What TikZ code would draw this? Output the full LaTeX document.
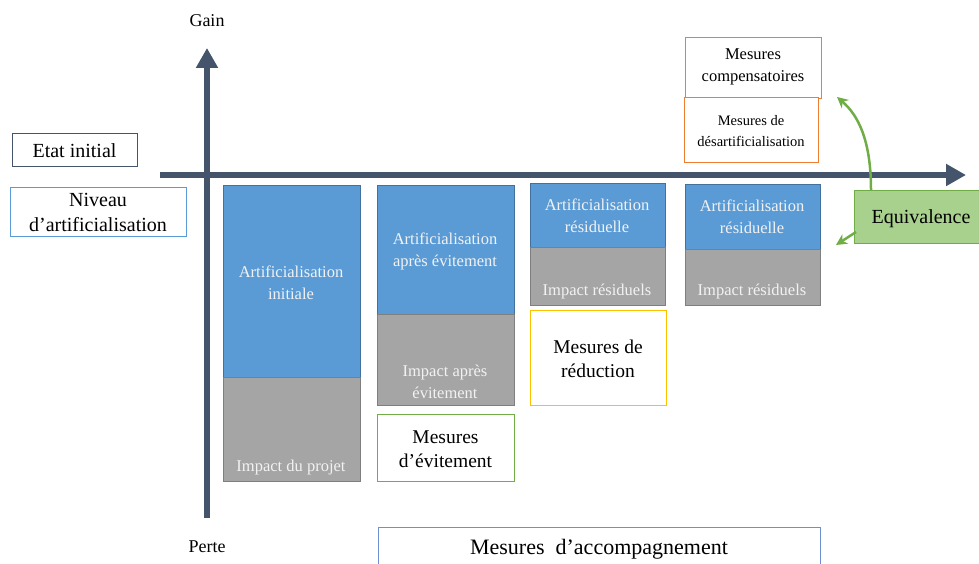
\documentclass[tikz,border=0pt]{standalone}
\usepackage{fontspec}
\setmainfont{Liberation Serif}
\usetikzlibrary{arrows.meta}
\definecolor{axis}{HTML}{44546A}
\definecolor{blu}{HTML}{5B9BD5}
\definecolor{bluD}{HTML}{41719C}
\definecolor{gry}{HTML}{A5A5A5}
\definecolor{gryD}{HTML}{7F7F7F}
\definecolor{grn}{HTML}{70AD47}
\definecolor{grnL}{HTML}{A9D18E}
\definecolor{gold}{HTML}{FFC000}
\definecolor{orng}{HTML}{ED7D31}
\definecolor{acc}{HTML}{6F8FD0}
\definecolor{wtxt}{HTML}{F2F2F2}
\tikzset{
  box/.style={draw, line width=1pt, inner sep=0pt, anchor=north west, align=center, text=black},
  bluebox/.style={box, draw=bluD, fill=blu},
  greybox/.style={box, draw=gryD, fill=gry},
  lab/.style={align=center, text=black, inner sep=0pt},
  wlab/.style={lab, text=wtxt, font=\fontsize{16.5}{22}\selectfont},
  axisline/.style={line width=6pt, draw=axis, -{Triangle[length=20pt,width=21pt]}},
  eqarrow/.style={line width=2.5pt, draw=grn, -{Stealth[length=11pt,width=11pt]}}
}
\begin{document}
\begin{tikzpicture}[x=1pt,y=-1pt]
\useasboundingbox (0,0) rectangle (979,564);
% axes
\coordinate (vb) at (207,518);
\coordinate (vt) at (207,48);
\coordinate (hl) at (160,175);
\coordinate (hr) at (966,175);
\draw[axisline] (vb) -- (vt);
\draw[axisline] (hl) -- (hr);
\node[lab, font=\fontsize{18}{20}\selectfont] (gain) at (207,21) {Gain};
\node[lab, font=\fontsize{18}{20}\selectfont] (perte) at (207,547) {Perte};
% left labels
\node[box, draw=axis, minimum width=125pt, minimum height=33pt] (etat) at (12,133) {};
\node[lab, font=\fontsize{20}{22}\selectfont] (etatt) at (74.5,151) {Etat initial};
\node[box, draw=blu, minimum width=176pt, minimum height=49pt] (niv) at (10,187) {};
\node[lab, font=\fontsize{20}{25}\selectfont] (nivt) at (98,212) {Niveau\\d’artificialisation};
% column 1
\node[bluebox, minimum width=137pt, minimum height=192pt] (b1) at (223,185) {};
\node[greybox, minimum width=137pt, minimum height=104pt] (g1) at (223,377) {};
\node[wlab] (t1) at (291,283) {Artificialisation\\initiale};
\node[wlab] (i1) at (291,468) {Impact du projet};
% column 2
\node[bluebox, minimum width=137pt, minimum height=129pt] (b2) at (377,185) {};
\node[greybox, minimum width=137pt, minimum height=91pt] (g2) at (377,314) {};
\node[wlab] (t2) at (445,251) {Artificialisation\\après évitement};
\node[wlab] (i2) at (445,382) {Impact après\\évitement};
\node[box, draw=grn, minimum width=137pt, minimum height=67pt] (mev) at (377,414) {};
\node[lab, font=\fontsize{19.5}{24}\selectfont] (mevt) at (445.5,449) {Mesures\\d’évitement};
% column 3
\node[bluebox, minimum width=135pt, minimum height=64pt] (b3) at (530,183) {};
\node[greybox, minimum width=135pt, minimum height=58pt] (g3) at (530,247) {};
\node[wlab] (t3) at (597,216) {Artificialisation\\résiduelle};
\node[wlab] (i3) at (597,292) {Impact résiduels};
\node[box, draw=gold, minimum width=136pt, minimum height=95pt] (mred) at (530,310) {};
\node[lab, font=\fontsize{19.5}{24}\selectfont] (mredt) at (598,359) {Mesures de\\réduction};
% column 4
\node[bluebox, minimum width=135pt, minimum height=65pt] (b4) at (685,184) {};
\node[greybox, minimum width=135pt, minimum height=56pt] (g4) at (685,249) {};
\node[wlab] (t4) at (752,217) {Artificialisation\\résiduelle};
\node[wlab] (i4) at (752,292) {Impact résiduels};
% compensation
\node[box, draw=orng, minimum width=136pt, minimum height=61pt] (mcomp) at (685,37) {};
\node[lab, font=\fontsize{16.5}{22}\selectfont] (mcompt) at (753,67) {Mesures\\compensatoires};
\node[box, draw=orng, fill=white, minimum width=134pt, minimum height=65pt] (mdes) at (684,97) {};
\node[lab, font=\fontsize{14.5}{21}\selectfont] (mdest) at (751,131) {Mesures de\\désartificialisation};
% equivalence
\node[box, draw=grn, fill=grnL, minimum width=125pt, minimum height=53pt] (eq) at (854,190) {};
\node[lab, font=\fontsize{20}{22}\selectfont] (eqt) at (921,219) {Equivalence};
\coordinate (eqtop) at (871,190);
\coordinate (eqleft) at (856,232);
\coordinate (up) at (837,97);
\coordinate (down) at (836,245);
\draw[eqarrow] (eqtop) .. controls (871,140) and (858,115) .. (up);
\draw[eqarrow] (eqleft) -- (down);
% accompagnement
\node[box, draw=acc, minimum width=442pt, minimum height=40pt] (macc) at (378,527) {};
\node[lab, font=\fontsize{22}{24}\selectfont] (macct) at (599,549) {Mesures\ \ d’accompagnement};
\end{tikzpicture}
\end{document}
